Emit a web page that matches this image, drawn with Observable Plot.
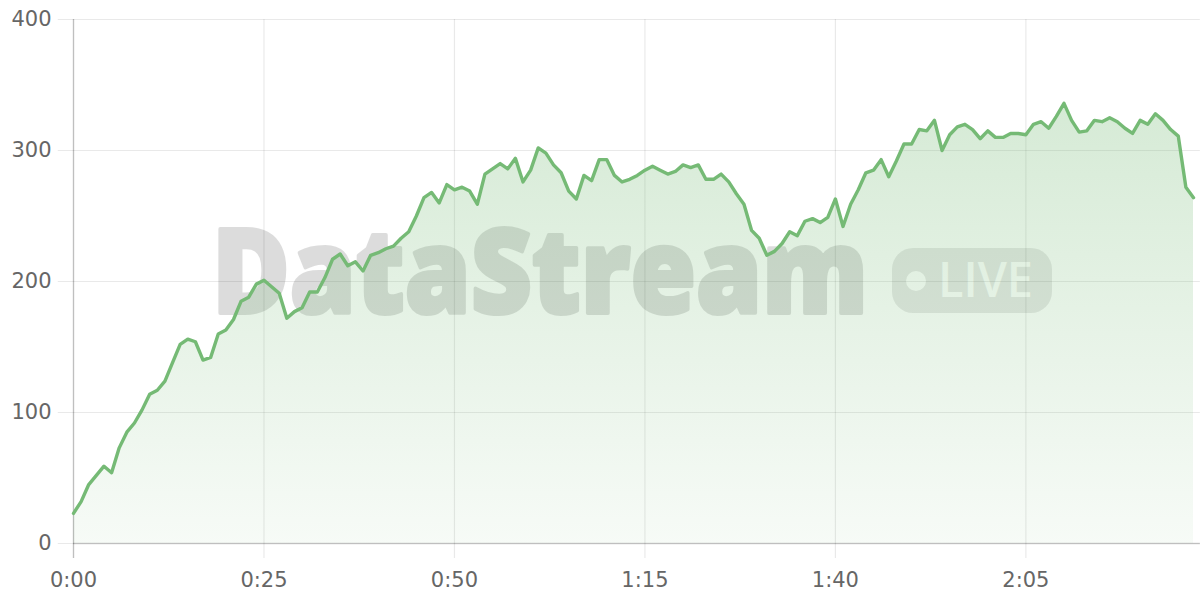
<!DOCTYPE html>
<html>
<head>
<meta charset="utf-8">
<script src="https://cdn.jsdelivr.net/npm/d3@7"></script>
<script src="https://cdn.jsdelivr.net/npm/@observablehq/plot@0.6"></script>
<style>
  html, body { margin: 0; padding: 0; background: #fff; }
  #wrap { position: relative; width: 1200px; height: 600px; overflow: hidden; }
  #wm { position: absolute; left: 0; top: 0; z-index: 0; }
  #chart { position: absolute; left: 0; top: 0; z-index: 1; }
  #chart svg { background: transparent; }
</style>
</head>
<body>
<div id="wrap">
  <svg id="wm" width="1200" height="600">
    <g opacity="0.135">
      <text x="212" y="313" textLength="656" lengthAdjust="spacingAndGlyphs"
        font-family="Open Sans" font-weight="800" font-size="117" fill="#000" stroke="#000" stroke-width="4" stroke-linejoin="round">DataStream</text>
    </g>
    <rect x="892" y="248" width="160" height="65" rx="21" fill="rgba(0,0,0,0.095)"></rect>
    <circle cx="916" cy="281" r="10" fill="#ffffff"></circle>
    <text x="938" y="297" textLength="95" lengthAdjust="spacingAndGlyphs"
      font-family="Open Sans" font-weight="600" font-size="48" fill="#ffffff">LIVE</text>
  </svg>
  <div id="chart"></div>
</div>
<script>
// Values per second (0:00 .. 2:27)
const values = [
  23, 32, 45, 52, 59, 54, 73, 85, 92, 102,
  114, 117, 124, 138, 152, 156, 154, 140, 142, 160,
  163, 171, 185, 188, 198, 201, 196, 191, 172, 177,
  180, 192, 192, 203, 217, 221, 212, 215, 208, 220,
  222, 225, 227, 233, 238, 250, 264, 268, 260, 274,
  270, 272, 269, 259, 282, 286, 290, 286, 294, 276,
  285, 302, 298, 289, 283, 269, 263, 281, 277, 293,
  293, 281, 276, 278, 281, 285, 288, 285, 282, 284,
  289, 287, 289, 278, 278, 282, 276, 267, 259, 239,
  233, 220, 223, 229, 238, 235, 246, 248, 245, 249,
  263, 242, 259, 270, 283, 285, 293, 280, 292, 305,
  305, 316, 315, 323, 300, 312, 318, 320, 316, 309,
  315, 310, 310, 313, 313, 312, 320, 322, 317, 326,
  336, 323, 314, 315, 323, 322, 325, 322, 317, 313,
  323, 320, 328, 323, 316, 311, 272, 264
];
const xTicks = [0, 25, 50, 75, 100, 125];
const xTickLabels = ["0:00", "0:25", "0:50", "1:15", "1:40", "2:05"];
const yTicks = [0, 100, 200, 300, 400];

const data = values.map((v, i) => ({t: i, v}));
const lineColor = "#75ba75";
const gridColor = "rgba(0,0,0,0.085)";
const axisColor = "rgba(0,0,0,0.18)";

const defs = () => {
  const ns = "http://www.w3.org/2000/svg";
  const d = document.createElementNS(ns, "defs");
  const g = document.createElementNS(ns, "linearGradient");
  g.setAttribute("id", "areaGrad");
  g.setAttribute("x1", "0"); g.setAttribute("y1", "0");
  g.setAttribute("x2", "0"); g.setAttribute("y2", "1");
  const s1 = document.createElementNS(ns, "stop");
  s1.setAttribute("offset", "0%"); s1.setAttribute("stop-color", lineColor); s1.setAttribute("stop-opacity", "0.30");
  const s2 = document.createElementNS(ns, "stop");
  s2.setAttribute("offset", "100%"); s2.setAttribute("stop-color", lineColor); s2.setAttribute("stop-opacity", "0.06");
  g.appendChild(s1); g.appendChild(s2); d.appendChild(g);
  return d;
};

const chart = Plot.plot({
  width: 1200,
  height: 600,
  marginLeft: 73,
  marginRight: 7,
  marginTop: 19,
  marginBottom: 57,
  style: {background: "transparent", fontFamily: "DejaVu Sans", fontSize: "20px", color: "#666"},
  x: {domain: [0, 147], label: null},
  y: {domain: [0, 400], label: null},
  marks: [
    defs,
    Plot.ruleY(yTicks, {x1: -2, x2: 147.9, stroke: gridColor, strokeWidth: 1.2}),
    Plot.ruleX(xTicks, {y1: -11.5, y2: 400, stroke: gridColor, strokeWidth: 1.2}),
    Plot.areaY(data, {x: "t", y: "v", fill: "url(#areaGrad)", curve: "linear"}),
    Plot.ruleX([0], {y1: -11.5, y2: 400, stroke: axisColor, strokeWidth: 1.4}),
    Plot.ruleY([0], {x1: 0, x2: 147.9, stroke: axisColor, strokeWidth: 1.4}),
    Plot.lineY(data, {x: "t", y: "v", stroke: lineColor, strokeWidth: 3.4, strokeLinejoin: "round", curve: "linear"}),
    Plot.axisY(yTicks, {tickSize: 0, tickPadding: 22, fill: "#666", fontSize: 21}),
    Plot.axisX(xTicks, {tickSize: 0, tickPadding: 29, fill: "#666", fontSize: 21,
      tickFormat: (d) => xTickLabels[xTicks.indexOf(d)]})
  ]
});
document.getElementById("chart").appendChild(chart);
</script>
</body>
</html>
